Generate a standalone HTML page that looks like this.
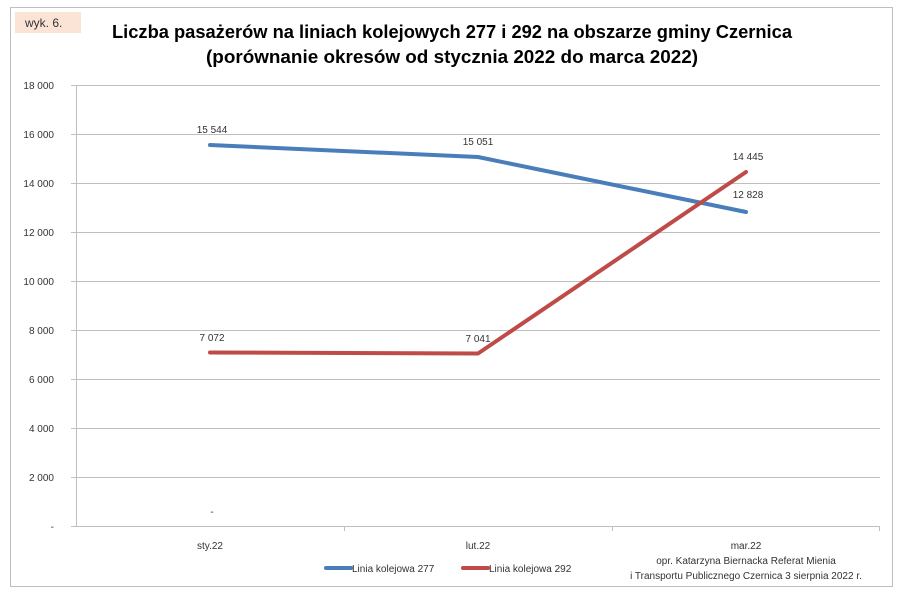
<!DOCTYPE html>
<html><head><meta charset="utf-8"><style>
body{margin:0;background:#fff;}
svg{display:block;font-family:"Liberation Sans",sans-serif;}
</style></head><body>
<svg width="900" height="592" viewBox="0 0 900 592">
<rect x="0" y="0" width="900" height="592" fill="#fff"/>
<rect x="10.5" y="7.5" width="882" height="579" fill="none" stroke="#bfbfbf" stroke-width="1"/>
<rect x="15" y="12" width="66" height="21" fill="#fbe4d5"/>
<text x="25" y="27" font-size="12" fill="#333">wyk. 6.</text>
<text x="452" y="38" font-size="18" font-weight="bold" text-anchor="middle" fill="#000" textLength="680" lengthAdjust="spacingAndGlyphs">Liczba pasażerów na liniach kolejowych 277 i 292 na obszarze gminy Czernica</text>
<text x="452" y="63" font-size="18" font-weight="bold" text-anchor="middle" fill="#000" textLength="492" lengthAdjust="spacingAndGlyphs">(porównanie okresów od stycznia 2022 do marca 2022)</text>
<g stroke="#bfbfbf" stroke-width="1">
<line x1="71" y1="85.5" x2="880" y2="85.5"/>
<line x1="71" y1="134.5" x2="880" y2="134.5"/>
<line x1="71" y1="183.5" x2="880" y2="183.5"/>
<line x1="71" y1="232.5" x2="880" y2="232.5"/>
<line x1="71" y1="281.5" x2="880" y2="281.5"/>
<line x1="71" y1="330.5" x2="880" y2="330.5"/>
<line x1="71" y1="379.5" x2="880" y2="379.5"/>
<line x1="71" y1="428.5" x2="880" y2="428.5"/>
<line x1="71" y1="477.5" x2="880" y2="477.5"/>
<line x1="71" y1="526.5" x2="880" y2="526.5"/>
<line x1="76.5" y1="85" x2="76.5" y2="526"/>
<line x1="344.5" y1="526" x2="344.5" y2="531"/>
<line x1="612.5" y1="526" x2="612.5" y2="531"/>
<line x1="879.5" y1="526" x2="879.5" y2="531"/>
</g>
<g font-size="10" fill="#333" text-anchor="end">
<text x="54" y="89">18 000</text>
<text x="54" y="138">16 000</text>
<text x="54" y="187">14 000</text>
<text x="54" y="236">12 000</text>
<text x="54" y="285">10 000</text>
<text x="54" y="334">8 000</text>
<text x="54" y="383">6 000</text>
<text x="54" y="432">4 000</text>
<text x="54" y="481">2 000</text>
<text x="54" y="530">-</text>
</g>
<g font-size="10" fill="#333" text-anchor="middle">
<text x="210" y="549">sty.22</text>
<text x="478" y="549">lut.22</text>
<text x="746" y="549">mar.22</text>
<text x="746" y="564">opr. Katarzyna Biernacka Referat Mienia</text>
<text x="746" y="579">i Transportu Publicznego Czernica 3 sierpnia 2022 r.</text>
<text x="212" y="133">15 544</text>
<text x="478" y="145">15 051</text>
<text x="748" y="160">14 445</text>
<text x="748" y="198">12 828</text>
<text x="212" y="341">7 072</text>
<text x="478" y="342">7 041</text>
<text x="212" y="515">-</text>
</g>
<polyline points="210,145 478,157 746,212" fill="none" stroke="#4a7ebb" stroke-width="4" stroke-linejoin="round" stroke-linecap="round"/>
<polyline points="210,352.5 478,353.5 746,172" fill="none" stroke="#be4b48" stroke-width="4" stroke-linejoin="round" stroke-linecap="round"/>
<line x1="326" y1="568" x2="351" y2="568" stroke="#4a7ebb" stroke-width="4" stroke-linecap="round"/>
<text x="352" y="572" font-size="10" fill="#333">Linia kolejowa 277</text>
<line x1="463" y1="568" x2="488" y2="568" stroke="#be4b48" stroke-width="4" stroke-linecap="round"/>
<text x="489" y="572" font-size="10" fill="#333">Linia kolejowa 292</text>
</svg>
</body></html>
